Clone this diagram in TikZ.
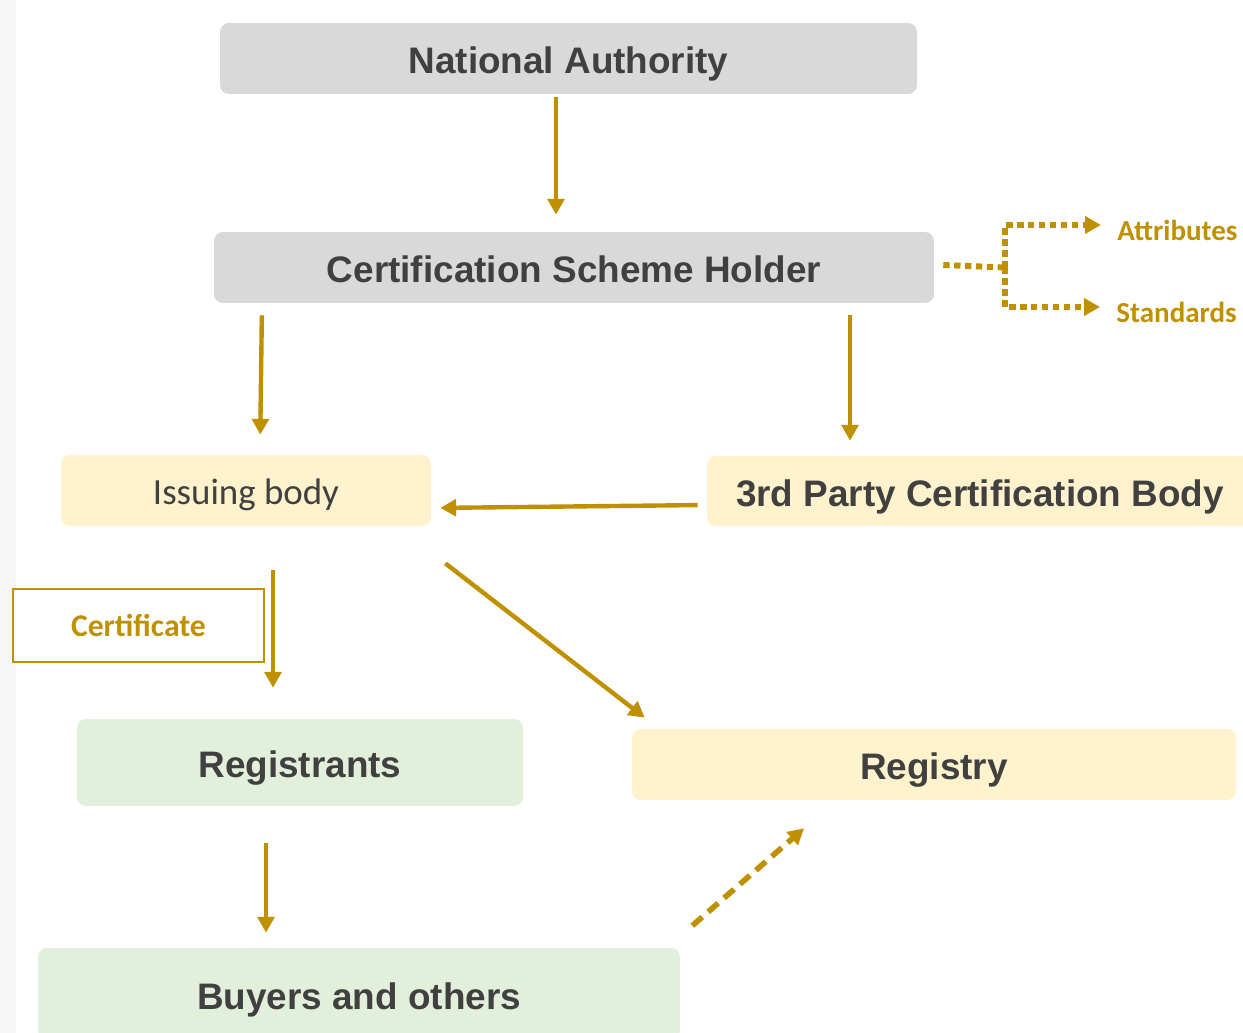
\documentclass[tikz,border=0pt]{standalone}
\usepackage{fontspec}
\setmainfont{Liberation Sans}
\newfontfamily\calibri{Carlito}
\usetikzlibrary{arrows.meta,calc}
\definecolor{gold}{HTML}{BF9000}
\definecolor{greybox}{HTML}{D9D9D9}
\definecolor{yellowbox}{HTML}{FFF2CC}
\definecolor{greenbox}{HTML}{E2EFDA}
\definecolor{textgrey}{HTML}{404040}
\tikzset{
  box/.style={rounded corners=5pt, inner sep=0pt, text=textgrey, text height=17.6pt, text depth=0pt, font=\fontsize{21}{25}\selectfont\bfseries},
  flow/.style={gold, line width=2.5pt, -{Triangle[length=9pt,width=9.5pt]}},
  dots/.style={gold, line width=3.4pt, dash pattern=on 3.6pt off 2.6pt},
  label/.style={text=gold, font=\calibri\fontsize{16.5}{20}\selectfont\bfseries, inner sep=0pt},
}

\begin{document}
\begin{tikzpicture}[x=0.02cm, y=-0.02cm]
            \useasboundingbox (0,0) rectangle (1243,1033);
            \fill[black!3] (0,0) rectangle (16,1033); % left margin strip
            % Draw the boxes
            \node[box, fill=greybox, minimum width=13.94cm, minimum height=1.42cm] (na) at (568.5,58.5) {National Authority};
            \node[box, fill=greybox, minimum width=14.4cm, minimum height=1.42cm] (csh) at (574,267.5) {Certification Scheme Holder};
            \node[box, fill=yellowbox, minimum width=7.4cm, minimum height=1.42cm, text height=16pt, font=\calibri\fontsize{21}{25}\selectfont] (ib) at (246,490.5) {Issuing body};
            \node[box, fill=yellowbox, minimum width=10.92cm, minimum height=1.4cm] (tp) at (980,491) {3rd Party Certification Body};
            \node[box, fill=greenbox, minimum width=8.92cm, minimum height=1.74cm] (rg) at (300,762.5) {Registrants};
            \node[box, fill=yellowbox, minimum width=12.08cm, minimum height=1.42cm] (ry) at (934,764.5) {Registry};
            \node[box, fill=greenbox, minimum width=12.84cm, minimum height=1.84cm] (by) at (359,994) {Buyers and others};
            \node[draw=gold, line width=1.4pt, minimum width=5.02cm, minimum height=1.46cm, label, font=\calibri\fontsize{18}{20}\selectfont\bfseries] (cert) at (138.5,625.5) {Certificate};
            % Labels on the right
            \node[label, anchor=west] (at) at (1117,230) {Attributes};
            \node[label, anchor=west] (st) at (1116,312) {Standards};
            \coordinate (fork) at ([xshift=1.42cm]csh.east);
            % Draw the arrows
            \draw[flow, shorten <=0.06cm, shorten >=0.34cm] ([xshift=-0.25cm]na.south) -- ([xshift=-0.25cm]na.south |- csh.north);
            \draw[flow, shorten <=0.24cm, shorten >=0.4cm] ([xshift=0.32cm]ib.north |- csh.south) -- ([xshift=0.28cm]ib.north);
            \draw[flow, shorten <=0.24cm, shorten >=0.3cm] ([xshift=-2.6cm]tp.north |- csh.south) -- ([xshift=-2.6cm]tp.north);
            \draw[flow, shorten <=0.18cm, shorten >=0.18cm] ([yshift=-0.28cm]tp.west) -- ([yshift=-0.35cm]ib.east);
            \draw[flow, shorten <=0.88cm, shorten >=0.62cm] ([xshift=0.54cm]ib.south) -- ([xshift=0.54cm]ib.south |- rg.north);
            \draw[flow] ([xshift=0.28cm,yshift=-0.74cm]ib.south east) -- ([xshift=0.26cm,yshift=0.22cm]ry.north west);
            \draw[flow, shorten <=0.74cm, shorten >=0.3cm] ([xshift=-0.68cm]rg.south) -- ([xshift=-0.68cm]rg.south |- by.north);
            \draw[flow, line width=3.2pt, dash pattern=on 7.5pt off 4.5pt] ([xshift=0.24cm,yshift=0.44cm]by.north east) -- ([xshift=-2.6cm,yshift=-0.56cm]ry.south); % dashed
            % Dotted fork to the labels
            \draw[dots] ([xshift=0.18cm,yshift=0.05cm]csh.east) -- (fork);
            \draw[dots, -{Triangle[length=9pt,width=9.5pt]}] (fork) |- ([xshift=-0.32cm,yshift=0.1cm]at.west);
            \draw[dots, -{Triangle[length=9pt,width=9.5pt]}] (fork) |- ([xshift=-0.32cm,yshift=0.1cm]st.west);
        \end{tikzpicture}
\end{document}
